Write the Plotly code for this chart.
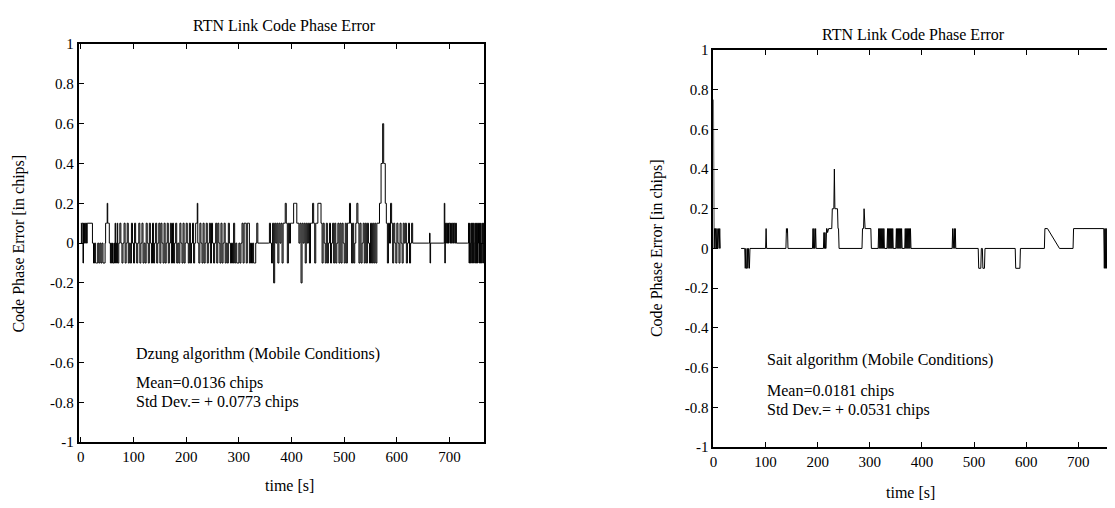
import plotly.graph_objects as go

# ---------------- data ----------------
# Left panel: Dzung algorithm, time [s] and code phase error [chips]
left_t = [
    0, 1, 2, 3, 4, 5, 6, 7, 8, 9, 10, 11, 12,
    22, 24, 26, 28, 30, 32, 34, 36, 38, 40, 42, 44, 46,
    47, 48, 49, 50, 51, 52, 53, 54, 55,
    56, 57, 58, 59, 60, 61, 62, 63, 64, 65, 66, 67, 68, 69, 70, 71, 72,
    74, 76, 78, 80, 82, 84, 86, 88, 90, 92,
    94, 96, 98, 100, 102, 104, 106, 108, 110, 112,
    114, 116, 118, 120, 122, 124, 126, 128, 130, 132,
    134, 136, 138, 140, 142,
    144, 146, 148, 150, 152, 154, 156, 158, 160, 162,
    164, 166, 168, 170, 172, 174, 176, 178, 180, 182,
    184, 186, 188, 190, 192, 194, 196, 198, 200, 202,
    204, 206, 208, 210, 212, 214, 216, 218,
    220, 221, 222,
    224, 226, 228, 230, 232, 234, 236, 238, 240, 242,
    244, 246, 248, 250, 252, 254, 256, 258, 260, 262,
    264, 266, 268, 270, 272, 274, 276, 278, 280, 282,
    284, 286, 288, 290, 292, 294, 296, 298, 300, 302,
    304, 306, 308, 310, 312, 314, 316, 318, 320, 322,
    324, 326, 328, 330, 332, 334, 336,
    340, 356,
    358, 360, 362, 364, 366, 368, 370, 372, 374, 376,
    378, 380, 382, 384, 386, 388, 390, 392, 394, 396,
    398, 400, 402, 404, 406, 408, 410, 412, 414, 416,
    418, 420, 422, 424, 426, 428, 430, 432, 434, 436,
    438, 440, 442, 444, 446, 448, 450, 452, 454, 456,
    458, 460, 462, 464, 466, 468, 470,
    472, 474, 476, 478, 480, 482, 484, 486, 488, 490,
    492, 494, 496, 498, 500, 502, 504, 506, 508, 510,
    512, 514, 516, 518, 520, 522, 524, 526, 528, 530,
    532, 534, 536, 538, 540, 542, 544, 546, 548, 550,
    552, 554, 556, 558, 560, 562, 564,
    566, 567, 569, 570, 572, 573, 574, 575, 577, 578, 579, 580,
    582, 584, 586, 588, 590, 592, 594, 596, 598, 600,
    602, 604, 606, 608, 610, 612, 614, 616, 618, 620,
    622, 624, 626, 628, 630,
    660, 662, 663, 664,
    688, 690, 691,
    692, 693, 694, 695, 696, 697, 698, 699, 700, 701, 702,
    703, 704, 705, 706, 707, 708, 709, 710, 711, 712, 713,
    734,
    736, 737, 738, 739, 740, 741, 742, 743, 744, 745,
    746, 747, 748, 749, 750, 751, 752, 753, 754, 755,
    756, 757, 758, 759, 760, 761, 762, 763, 764, 765, 766,
]
left_v = [
    0.1, 0, 0.1, 0.1, -0.1, 0.1, 0, 0.1, 0.1, 0, 0.1, 0, 0.1,
    0, -0.1, 0, -0.1, -0.1, 0, -0.1, 0, -0.1, 0, -0.1, -0.1, 0,
    0.1, 0.1, 0.1, 0.2, 0.1, 0.1, 0.1, 0, 0,
    -0.1, 0, -0.1, -0.1, 0, -0.1, -0.1, 0, -0.1, 0.1, -0.1, 0, -0.1, 0.1, -0.1, -0.1, 0,
    0.1, 0, -0.1, 0, 0.1, -0.1, 0, 0.1, -0.1, 0,
    -0.1, 0.1, 0, -0.1, 0.1, 0, -0.1, 0, 0.1, -0.1,
    0, 0.1, -0.1, 0, -0.1, 0.1, 0, -0.1, 0.1, 0,
    -0.1, 0.1, -0.1, 0, 0.1,
    -0.1, 0, 0.1, -0.1, 0.1, 0, -0.1, 0.1, -0.1, 0,
    0.1, -0.1, 0, 0.1, -0.1, 0.1, -0.1, 0, 0.1, -0.1,
    0, -0.1, 0.1, 0, -0.1, 0.1, -0.1, 0, 0.1, 0,
    -0.1, 0.1, -0.1, 0, 0.1, -0.1, 0, 0.1,
    0.1, 0.2, 0,
    -0.1, 0.1, 0, -0.1, 0.1, -0.1, 0, 0.1, -0.1, 0,
    0.1, -0.1, 0.1, 0, -0.1, 0, 0.1, -0.1, 0.1, 0,
    -0.1, 0.1, -0.1, 0, 0.1, -0.1, 0, -0.1, 0.1, 0,
    -0.1, 0, -0.1, 0.1, -0.1, 0, -0.1, -0.1, 0, -0.1,
    0, 0.1, -0.1, 0.1, 0.1, -0.1, 0.1, 0.1, -0.1, 0,
    -0.1, 0, -0.1, -0.1, 0, 0.1, 0,
    0, 0,
    0.1, 0, -0.1, 0.1, -0.2, 0.1, 0, 0.1, -0.1, 0.1,
    0, 0.1, -0.1, 0.1, 0.1, 0.2, 0.1, -0.1, 0.1, 0,
    0.1, 0.1, 0.1, 0.2, 0.2, 0.2, 0.1, 0.1, 0, 0.1,
    -0.2, 0.1, 0, 0.1, -0.1, 0.1, 0, 0.1, -0.1, 0.1,
    0.1, 0.2, 0.1, -0.1, 0.1, 0.1, 0.2, 0.2, 0.2, 0.1,
    -0.1, 0.1, 0, -0.1, 0.1, -0.1, 0,
    0.1, -0.1, 0, 0.1, -0.1, 0.1, -0.1, 0, 0.1, -0.1,
    0.1, -0.1, 0.1, 0, -0.1, 0.1, -0.1, 0.1, 0.1, 0.2,
    0.1, -0.1, 0.1, -0.1, 0, 0.1, 0.2, 0.1, -0.1, 0.1,
    -0.1, 0, 0.1, -0.1, 0.1, -0.1, 0.1, 0, -0.1, 0.1,
    -0.1, 0.1, -0.1, 0.1, -0.1, 0.1, 0.1,
    0.1, 0.2, 0.2, 0.4, 0.4, 0.6, 0.6, 0.4, 0.4, 0.2, 0.2, 0.1,
    -0.1, 0.1, 0, 0.2, 0.1, -0.1, 0.1, 0, -0.1, 0.1,
    0, -0.1, 0.1, 0, -0.1, 0.1, 0, 0.1, -0.1, 0,
    0.1, -0.1, 0, 0.1, 0,
    0, 0.05, -0.1, 0,
    0, 0.2, -0.1,
    0.1, 0, 0.1, 0.1, 0, 0.1, 0, 0.1, 0.1, 0, 0.1,
    0, 0.1, 0.1, 0, 0.1, 0, 0.1, 0.1, 0, 0.1, 0,
    0,
    0.1, -0.1, 0.1, -0.1, 0, 0.1, -0.1, 0.1, -0.1, 0.1,
    -0.1, 0, 0.1, -0.1, 0.1, -0.1, 0.1, -0.1, 0, 0.1,
    -0.1, 0.1, -0.1, 0.1, -0.1, 0, 0.1, -0.1, 0.1, -0.1, 0.1,
]

# Right panel: Sait algorithm
right_t = [
    0, 0.5, 1, 2, 3, 4, 5, 6, 7, 8, 9, 10, 11, 12, 13, 14,
    53, 60, 61, 62, 63, 64, 65, 66, 67, 68, 69, 70,
    100, 101, 102, 139, 140, 141, 142, 143,
    190, 191, 192, 193, 194, 195, 196, 197,
    211, 212, 213, 214, 215, 216, 217, 218, 219, 220,
    221, 227, 228, 231, 232, 233, 238, 239, 240, 241,
    285, 286, 288, 289, 290, 291, 302, 303,
    316, 317, 318, 319, 320, 321, 322, 323, 324, 325, 326, 327, 328,
    333, 334, 335, 336, 337, 338, 339, 340, 341, 342, 343, 344, 345,
    350, 351, 352, 353, 354, 355, 356, 357, 358, 359, 360, 361, 362,
    367, 368, 369, 370, 371, 372, 373, 374, 375, 376, 377, 378, 379,
    458, 459, 460, 461, 462, 463, 464, 465,
    508, 509, 513, 514, 516, 517, 520, 521,
    579, 580, 588, 589, 635, 636, 641, 664, 690, 691, 749,
    750, 751, 752, 753, 754, 755, 756, 757, 758, 759, 760,
    761, 762, 763, 764, 765, 766, 767, 768, 769, 770,
]
right_v = [
    0.75, 0.1, 0, 0.1, 0, 0.1, 0.1, 0, 0.1, 0, 0.1, 0.1, 0, 0.1, 0, None,
    0, 0, -0.1, 0, -0.1, -0.1, 0, -0.1, 0, -0.1, -0.1, 0,
    0, 0.1, 0, 0, 0.1, 0.08, 0.1, 0,
    0, 0.1, 0, 0.1, 0, 0, 0.1, 0,
    0, 0.08, 0, 0.08, 0, 0, 0.1, 0.1, 0.08, 0.1,
    0.1, 0.1, 0.2, 0.2, 0.4, 0.2, 0.2, 0.1, 0.1, 0,
    0, 0.1, 0.1, 0.2, 0.1, 0.1, 0.1, 0,
    0, 0.1, 0, 0.1, 0, 0.1, 0, 0.1, 0, 0.1, 0, 0.1, 0,
    0, 0.1, 0, 0.1, 0, 0.1, 0, 0.1, 0, 0.1, 0, 0.1, 0,
    0, 0.1, 0, 0.1, 0, 0.1, 0, 0.1, 0, 0.1, 0, 0.1, 0,
    0, 0.1, 0, 0.1, 0, 0.1, 0, 0.1, 0, 0.1, 0, 0.1, 0,
    0, 0.1, 0, 0.1, 0.1, 0, 0.1, 0,
    0, -0.1, -0.1, 0, 0, -0.1, -0.1, 0,
    0, -0.1, -0.1, 0, 0, 0.1, 0.1, 0, 0, 0.1, 0.1,
    -0.1, 0.1, -0.1, 0.1, -0.1, 0.1, -0.1, 0.1, -0.1, 0.1, -0.1,
    0.1, -0.1, 0.1, -0.1, 0.1, -0.1, 0.1, -0.1, 0.1, -0.1,
]

x_tick_vals = [0, 100, 200, 300, 400, 500, 600, 700]
x_tick_text = ["0", "100", "200", "300", "400", "500", "600", "700"]
y_tick_vals = [-1, -0.8, -0.6, -0.4, -0.2, 0, 0.2, 0.4, 0.6, 0.8, 1]
y_tick_text = ["-1", "-0.8", "-0.6", "-0.4", "-0.2", "0", "0.2", "0.4", "0.6", "0.8", "1"]

panel_title = "RTN Link Code Phase Error"
y_title = "Code Phase Error [in chips]"
x_title = "time [s]"
left_notes = ["Dzung algorithm (Mobile Conditions)", "Mean=0.0136 chips", "Std Dev.= + 0.0773 chips"]
right_notes = ["Sait algorithm (Mobile Conditions)", "Mean=0.0181 chips", "Std Dev.= + 0.0531 chips"]

assert len(left_t) == len(left_v)
assert len(right_t) == len(right_v)

# ---------------- figure ----------------
W, H = 1115, 508
OFF = 8  # the page body adds an 8 px margin; positions below are screen pixels
SERIF = "Liberation Serif, Times New Roman, serif"


def px(x):
    return (x - OFF) / W


def py(y):
    return 1 - (y - OFF) / H


fig = go.Figure()
fig.add_trace(go.Scatter(x=left_t, y=left_v, mode="lines",
                         line=dict(color="black", width=1, shape="hv"),
                         xaxis="x", yaxis="y", showlegend=False))
fig.add_trace(go.Scatter(x=right_t, y=right_v, mode="lines",
                         line=dict(color="black", width=1),
                         xaxis="x2", yaxis="y2", showlegend=False,
                         connectgaps=False))

axis_common = dict(
    showline=True, linecolor="black", linewidth=2,
    ticks="inside", ticklen=5, tickcolor="black", tickwidth=1,
    showgrid=False, zeroline=False,
    tickfont=dict(family=SERIF, size=15, color="black"),
)

# right panel: axis at screen x 712, 0.523 px per second, runs past the window edge
r_left = 712
r_scale = 0.523
r_max = (W + OFF - r_left) / r_scale

fig.update_layout(
    width=W, height=H,
    margin=dict(l=0, r=0, t=0, b=0),
    paper_bgcolor="white", plot_bgcolor="white",
    xaxis=dict(domain=[px(75), px(482)], range=[-4, 766], anchor="y",
               tickvals=x_tick_vals, ticktext=x_tick_text, mirror="ticks",
               **axis_common),
    yaxis=dict(domain=[py(448), py(37)], range=[-1, 1], anchor="x",
               tickvals=y_tick_vals, ticktext=y_tick_text, mirror="ticks",
               **axis_common),
    xaxis2=dict(domain=[px(r_left), 1.0], range=[0, r_max], anchor="y2",
                tickvals=x_tick_vals, ticktext=x_tick_text, mirror="ticks",
                **axis_common),
    yaxis2=dict(domain=[py(453), py(43)], range=[-1, 1], anchor="x2",
                tickvals=y_tick_vals, ticktext=y_tick_text, mirror=False,
                **axis_common),
)

ann = []


def text(x, y, s, size=16, xanchor="center", angle=0):
    ann.append(dict(x=px(x), y=py(y), xref="paper", yref="paper", text=s,
                    showarrow=False, xanchor=xanchor, yanchor="middle",
                    textangle=angle,
                    font=dict(family=SERIF, size=size, color="black")))


# titles
text(281, 18, panel_title)
text(913, 27, panel_title)
# y titles
text(15, 243, y_title, angle=-90)
text(656, 248, y_title, angle=-90)
# x titles
text(286, 493, x_title)
text(910, 500, x_title)
# notes
text(130, 357, left_notes[0], xanchor="left")
text(130, 387, left_notes[1], xanchor="left")
text(130, 407, left_notes[2], xanchor="left")
text(764, 363, right_notes[0], xanchor="left")
text(764, 395, right_notes[1], xanchor="left")
text(764, 415, right_notes[2], xanchor="left")

fig.update_layout(annotations=ann)
fig.write_html("out.html")
